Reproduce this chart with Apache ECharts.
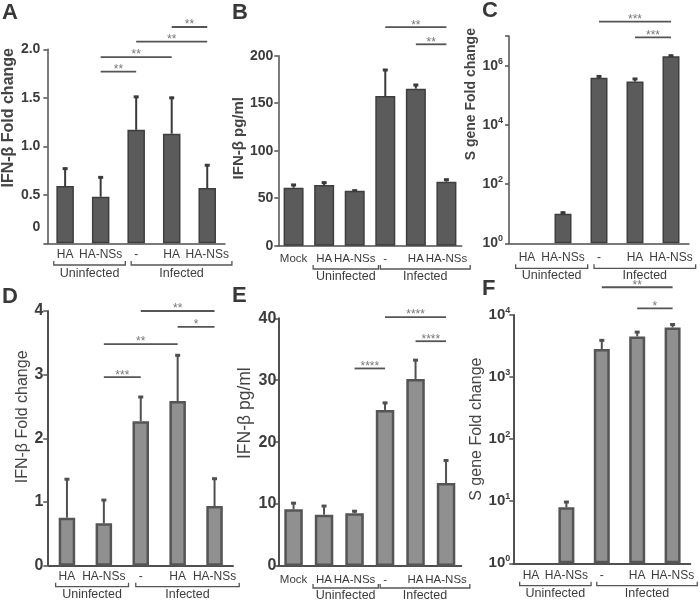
<!DOCTYPE html>
<html><head><meta charset="utf-8">
<script src="https://cdn.jsdelivr.net/npm/echarts@6/dist/echarts.min.js"></script>
<style>html,body{margin:0;padding:0;background:#fff}#c{width:700px;height:601px}</style>
</head><body><div id="c"></div>
<script>
// ---------- DATA ----------
const catsA = ['HA', 'HA-NSs', '-', 'HA', 'HA-NSs'];
const meanA = [0.59, 0.48, 1.17, 1.13, 0.57];
const errA  = [0.19, 0.21, 0.35, 0.38, 0.245];
const sigA  = [[1, 2, 1.77, '**'], [1, 3, 1.92, '**'], [2, 4, 2.08, '**'], [3, 4, 2.23, '**']];
const groupsA = [['Uninfected', 0, 1], ['Infected', 2, 4]];
const ticksA = [0, 0.5, 1.0, 1.5, 2.0];

const catsB = ['Mock', 'HA', 'HA-NSs', '-', 'HA', 'HA-NSs'];
const meanB = [61, 63.9, 57.9, 157.5, 165.3, 67.4];
const errB  = [4, 3.5, 1.1, 28.5, 4.9, 3.1];
const sigB  = [[3, 5, 230, '**'], [4, 5, 212, '**']];
const groupsB = [['Uninfected', 1, 2], ['Infected', 3, 5]];
const ticksB = [0, 50, 100, 150, 200];

const catsC = ['HA', 'HA-NSs', '-', 'HA', 'HA-NSs'];
const meanC = [null, 10, 3.9e5, 2.9e5, 2.08e6];
const errC  = [null, 1.7, 0.8e5, 0.95e5, 0.27e6];
const sigC  = [[2, 4, 3.1e7, '***'], [3, 4, 9e6, '***']];
const groupsC = [['Uninfected', 0, 1], ['Infected', 2, 4]];
const ticksC = [1, 1e2, 1e4, 1e6];
const axisTopC = 1e7;

const catsD = ['HA', 'HA-NSs', '-', 'HA', 'HA-NSs'];
const meanD = [0.754, 0.666, 2.27, 2.585, 0.937];
const errD  = [0.62, 0.38, 0.395, 0.735, 0.445];
const sigD  = [[2, 4, 4.0, '**'], [3, 4, 3.75, '*'], [1, 3, 3.48, '**'], [1, 2, 2.96, '***']];
const groupsD = [['Uninfected', 0, 1], ['Infected', 2, 4]];
const ticksD = [0, 1, 2, 3, 4];

const catsE = ['Mock', 'HA', 'HA-NSs', '-', 'HA', 'HA-NSs'];
const meanE = [9.16, 8.29, 8.51, 25.2, 30.2, 13.4];
const errE  = [1.15, 1.55, 0.5, 1.3, 3.2, 3.8];
const sigE  = [[3, 5, 40.2, '****'], [4, 5, 36.3, '****'], [2, 3, 31.9, '****']];
const groupsE = [['Uninfected', 1, 2], ['Infected', 3, 5]];
const ticksE = [0, 10, 20, 30, 40];

const catsF = ['HA', 'HA-NSs', '-', 'HA', 'HA-NSs'];
const meanF = [null, 7.97, 2830, 4520, 6300];
const errF  = [null, 2.1, 1220, 980, 1000];
const sigF  = [[2, 4, 2.8e4, '**'], [3, 4, 1.28e4, '*']];
const groupsF = [['Uninfected', 0, 1], ['Infected', 2, 4]];
const ticksF = [1, 10, 100, 1000, 10000];

// ---------- LAYOUT / STYLE ----------
const FONT = '"Liberation Sans", Arial, Helvetica, sans-serif';
const cv = document.createElement('canvas').getContext('2d');
function textW(t, size) { cv.font = size + 'px ' + FONT; return cv.measureText(t).width; }

const panels = [
  { letter: 'A', lp: [2, 13], cats: catsA, mean: meanA, err: errA, sig: sigA, groups: groupsA, ticks: ticksA, log: false,
    yName: 'IFN-β Fold change', dark: true,
    L: { grid: { left: 47, top: 49.3, width: 178, height: 194 }, bw: 17.5, xm: 5, xfs: 12, ym: 7, tfs: 14, off: 0,
         nfs: 16, nfw: 'bold', gap: 25, pad: 57, br: 21.7, gt: 8.5 } },
  { letter: 'B', lp: [232, 12.5], cats: catsB, mean: meanB, err: errB, sig: sigB, groups: groupsB, ticks: ticksB, log: false,
    yName: 'IFN-β pg/ml', dark: true,
    L: { grid: { left: 278.3, top: 55.7, width: 183.4, height: 190 }, bw: 20, xm: 7, xfs: 11.5, ym: 5, tfs: 14, off: 0,
         nfs: 15, nfw: 'bold', gap: 30, pad: 25, br: 23.3, gt: 8 } },
  { letter: 'C', lp: [482, 10.8], cats: catsC, mean: meanC, err: errC, sig: sigC, groups: groupsC, ticks: ticksC, log: true,
    top: axisTopC, yName: 'S gene Fold change', dark: true,
    L: { grid: { left: 509, top: 36.1, width: 180, height: 207.2 }, bw: 17, xm: 8, xfs: 12, ym: 6, tfs: 14, off: 0,
         nfs: 14, nfw: 'bold', gap: 27, pad: 91, br: 25, gt: 7.5 } },
  { letter: 'D', lp: [2, 296.5], cats: catsD, mean: meanD, err: errD, sig: sigD, groups: groupsD, ticks: ticksD, log: false,
    yName: 'IFN-β Fold change', dark: false,
    L: { grid: { left: 48.5, top: 311, width: 184.5, height: 254.7 }, bw: 16.5, xm: 4.5, xfs: 12, ym: 4, tfs: 16, off: 1.2,
         nfs: 16, nfw: 'normal', gap: 12, pad: 43, br: 21, gt: 8.3 } },
  { letter: 'E', lp: [232, 296], cats: catsE, mean: meanE, err: errE, sig: sigE, groups: groupsE, ticks: ticksE, log: false,
    yName: 'IFN-β pg/ml', dark: false,
    L: { grid: { left: 278.3, top: 318.3, width: 183, height: 247.7 }, bw: 18.5, xm: 7.5, xfs: 11.5, ym: 2, tfs: 16, off: 0,
         nfs: 17.5, nfw: 'normal', gap: 24, pad: 58, br: 22, gt: 8 } },
  { letter: 'F', lp: [482, 288.5], cats: catsF, mean: meanF, err: errF, sig: sigF, groups: groupsF, ticks: ticksF, log: true,
    yName: 'S gene Fold change', dark: false,
    L: { grid: { left: 513.3, top: 315, width: 177, height: 248.3 }, bw: 16, xm: 6, xfs: 12, ym: 3, tfs: 15, off: 0,
         nfs: 16, nfw: 'normal', gap: 19, pad: 20, br: 22.4, gt: 8.3 } }
];

const AX = '#505050', TXT = '#3c3c3c', GFS = 12.5;
const grids = [], xAxes = [], yAxes = [], series = [], graphics = [];

panels.forEach((P, i) => {
  const L = P.L;
  const yMin = P.ticks[0];
  const yMax = P.top != null ? P.top : P.ticks[P.ticks.length - 1];
  grids.push(Object.assign({ containLabel: false }, L.grid));
  const barFill = P.dark ? '#5b5b5b' : '#909090';
  const barEdge = P.dark ? '#3e3e3e' : '#555555';
  const errCol = P.dark ? '#3a3a3a' : '#505050';
  const axW = P.dark ? 1.5 : 2;

  xAxes.push({
    gridIndex: i, type: 'category', data: P.cats, boundaryGap: true,
    axisLine: { lineStyle: { color: AX, width: axW } },
    axisTick: { alignWithLabel: true, interval: 0, length: 4, lineStyle: { color: AX, width: 1.5 } },
    axisLabel: { interval: 0, margin: L.xm, fontSize: L.xfs, color: TXT, fontFamily: FONT, hideOverlap: false },
    splitLine: { show: false }
  });

  let formatter, rich;
  if (P.log) {
    formatter = v => {
      const e = Math.round(Math.log10(v));
      if (P.ticks.indexOf(Math.pow(10, e)) < 0) return '';
      return '{b|10}{s|' + e + '}';
    };
    rich = {
      b: { fontSize: L.tfs, fontWeight: 'bold', color: TXT, fontFamily: FONT },
      s: { fontSize: 9, color: TXT, fontFamily: FONT, padding: [0, 0, 9, 0] }
    };
  } else if (P.letter === 'A') {
    formatter = v => v === 0 ? '{z|0}' : v.toFixed(1);
    rich = { z: { fontSize: L.tfs, fontWeight: 'bold', color: TXT, fontFamily: FONT, padding: [0, 0, 32, 0] } };
  } else {
    formatter = v => String(v);
  }

  const yAx = {
    gridIndex: i, type: P.log ? 'log' : 'value', min: yMin, max: yMax, offset: L.off,
    axisLine: { show: true, lineStyle: { color: AX, width: axW } },
    axisTick: { show: true, length: 4, lineStyle: { color: AX, width: 1.5 } },
    splitLine: { show: false },
    axisLabel: { margin: L.ym, fontSize: L.tfs, fontWeight: 'bold', color: TXT, fontFamily: FONT, formatter, rich },
    name: P.yName, nameLocation: 'middle', nameRotate: 90, nameGap: L.gap,
    nameTextStyle: { fontSize: L.nfs, fontWeight: L.nfw, color: '#444', fontFamily: FONT, padding: [0, 0, 0, L.pad] }
  };
  if (P.log) {
    yAx.logBase = 10;
    yAx.interval = Math.round(Math.log10(P.ticks[1] / P.ticks[0]));
  } else {
    yAx.interval = P.ticks[1] - P.ticks[0];
  }
  yAxes.push(yAx);

  // bars
  series.push({
    type: 'bar', xAxisIndex: i, yAxisIndex: i, silent: true, barWidth: L.bw,
    data: P.mean.map(v => v == null ? '-' : v),
    itemStyle: { color: barFill, borderColor: barEdge, borderWidth: P.dark ? 1.5 : 2.5 },
    z: 2
  });

  // error bars (upward only)
  const eData = [];
  P.mean.forEach((m, j) => { if (m != null) eData.push([j, m, m + P.err[j]]); });
  series.push({
    type: 'custom', xAxisIndex: i, yAxisIndex: i, silent: true, clip: false, z: 4,
    data: eData, encode: { x: 0, y: 1 },
    renderItem(params, api) {
      const x = api.value(0);
      const p0 = api.coord([x, api.value(1)]);
      const p1 = api.coord([x, api.value(2)]);
      return { type: 'group', children: [
        { type: 'line', shape: { x1: p0[0], y1: p0[1], x2: p1[0], y2: p1[1] }, style: { stroke: errCol, lineWidth: 2 } },
        { type: 'line', shape: { x1: p1[0] - 2.5, y1: p1[1] + 1, x2: p1[0] + 2.5, y2: p1[1] + 1 }, style: { stroke: errCol, lineWidth: 3 } }
      ] };
    }
  });

  // significance bars
  series.push({
    type: 'custom', xAxisIndex: i, yAxisIndex: i, silent: true, clip: false, z: 4,
    data: P.sig.map(s => [s[0], s[2], s[1]]), encode: { x: 0, y: 1 },
    renderItem(params, api) {
      const a = api.coord([api.value(0), api.value(1)]);
      const b = api.coord([api.value(2), api.value(1)]);
      const label = P.sig[params.dataIndex][3];
      return { type: 'group', children: [
        { type: 'line', shape: { x1: a[0], y1: a[1], x2: b[0], y2: b[1] }, style: { stroke: '#555', lineWidth: 1.8 } },
        { type: 'text', style: { text: label, x: (a[0] + b[0]) / 2, y: a[1] - 2, align: 'center', verticalAlign: 'middle',
          fontSize: 12, fontFamily: FONT, fill: '#777' } }
      ] };
    }
  });

  // group brackets
  series.push({
    type: 'custom', xAxisIndex: i, yAxisIndex: i, silent: true, clip: false, z: 4,
    data: P.groups.map(g => [g[1], yMin, g[2]]), encode: { x: 0, y: 1 },
    renderItem(params, api) {
      const g = P.groups[params.dataIndex];
      const cs = params.coordSys;
      const xa = api.coord([api.value(0), yMin])[0] - textW(P.cats[g[1]], L.xfs) / 2 - 3;
      const xb = api.coord([api.value(2), yMin])[0] + textW(P.cats[g[2]], L.xfs) / 2 + 3;
      const yb = cs.y + cs.height + L.br;
      return { type: 'group', children: [
        { type: 'polyline', shape: { points: [[xa, yb - 4], [xa, yb], [xb, yb], [xb, yb - 4]] },
          style: { stroke: '#555', fill: 'none', lineWidth: 1.3 } },
        { type: 'text', style: { text: g[0], x: (xa + xb) / 2, y: yb + L.gt, align: 'center', verticalAlign: 'middle',
          fontSize: GFS, fontFamily: FONT, fill: TXT } }
      ] };
    }
  });

  graphics.push({ type: 'text', x: P.lp[0], y: P.lp[1], silent: true,
    style: { text: P.letter, fontSize: 22, fontWeight: 'bold', fontFamily: FONT, fill: '#383838', align: 'left', verticalAlign: 'middle' } });
});

const chart = echarts.init(document.getElementById('c'), null, { renderer: 'canvas' });
chart.setOption({
  animation: false,
  backgroundColor: '#ffffff',
  grid: grids, xAxis: xAxes, yAxis: yAxes, series, graphic: graphics
});
</script>
</body></html>
